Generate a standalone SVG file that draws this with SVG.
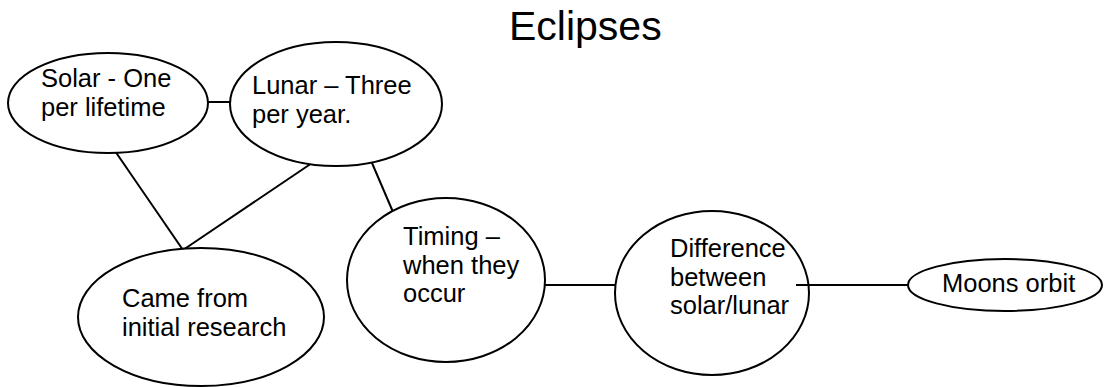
<svg xmlns="http://www.w3.org/2000/svg" width="1115" height="387" viewBox="0 0 1115 387">
<style>
.n{fill:#fff;stroke:#000;stroke-width:2}
.t{font-family:"Liberation Sans",Arial,sans-serif;font-size:25.5px;fill:#000}
.c line{stroke:#000;stroke-width:2}
</style>
<rect width="1115" height="387" fill="#fff"/>
<text class="t" x="509" y="40" style="font-size:41px">Eclipses</text>
<g class="c" id="connectors">
<line x1="208" y1="102" x2="231" y2="102"/>
<line x1="115" y1="151" x2="183" y2="250"/>
<line x1="312" y1="163" x2="183" y2="250"/>
<line x1="372" y1="163" x2="393" y2="212"/>
<line x1="545" y1="285" x2="615" y2="285"/>
<line x1="796" y1="285" x2="913" y2="285"/>
</g>
<g id="solar"><ellipse class="n" cx="108" cy="103" rx="100" ry="50"/>
<text class="t" x="41" y="87">Solar - One</text><text class="t" x="41" y="115.5">per lifetime</text></g>
<g id="lunar"><ellipse class="n" cx="336" cy="104" rx="106" ry="62"/>
<text class="t" x="252" y="94">Lunar – Three</text><text class="t" x="252" y="122.5">per year.</text></g>
<g id="came"><ellipse class="n" cx="201" cy="317" rx="123" ry="69"/>
<text class="t" x="122" y="307">Came from</text><text class="t" x="122" y="335.5">initial research</text></g>
<g id="timing"><ellipse class="n" cx="446" cy="280" rx="99" ry="82"/>
<text class="t" x="403" y="245">Timing –</text><text class="t" x="403" y="273.5">when they</text><text class="t" x="403" y="302">occur</text></g>
<g id="difference"><ellipse class="n" cx="712" cy="293" rx="97" ry="82" style="fill:none"/>
<text class="t" x="670" y="257">Difference</text><text class="t" x="670" y="285.5">between</text><text class="t" x="670" y="314">solar/lunar</text></g>
<g id="moons"><ellipse class="n" cx="1005" cy="285" rx="97" ry="26"/>
<text class="t" x="942" y="292">Moons orbit</text></g>
</svg>
